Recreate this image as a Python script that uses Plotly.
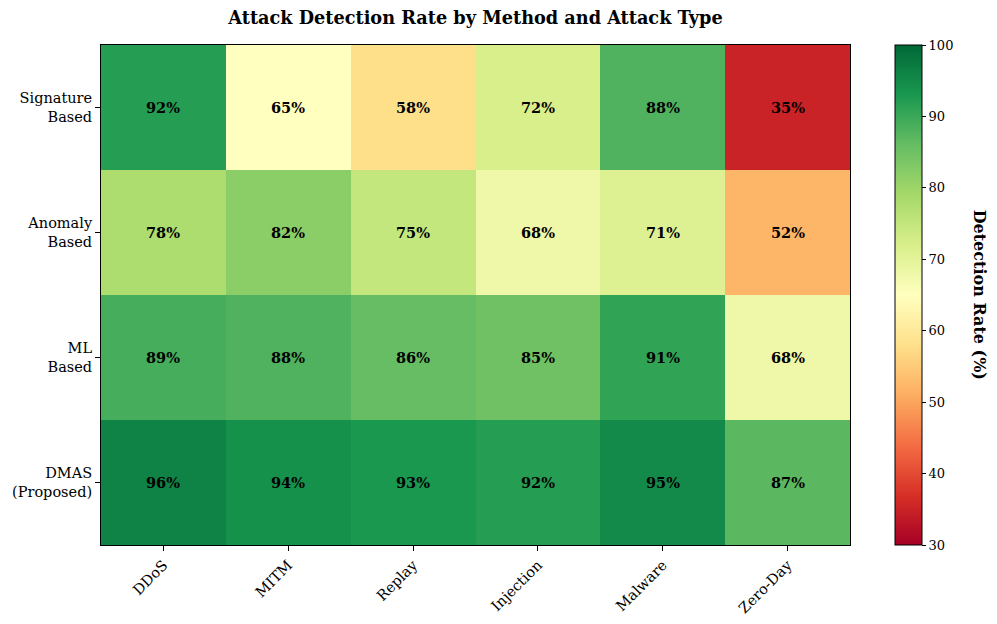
import plotly.graph_objects as go

attack_types = ["DDoS", "MITM", "Replay", "Injection", "Malware", "Zero-Day"]
methods = ["Signature<br>Based", "Anomaly<br>Based", "ML<br>Based", "DMAS<br>(Proposed)"]
signature = [92, 65, 58, 72, 88, 35]
anomaly = [78, 82, 75, 68, 71, 52]
ml = [89, 88, 86, 85, 91, 68]
dmas = [96, 94, 93, 92, 95, 87]
z = [signature, anomaly, ml, dmas]
text = [[f"<b>{v}%</b>" for v in row] for row in z]

FONT = "DejaVu Serif"

fig = go.Figure(go.Heatmap(
    z=z, x=attack_types, y=methods,
    colorscale="RdYlGn", zmin=30, zmax=100,
    text=text, texttemplate="%{text}",
    textfont=dict(family=FONT, size=14.5, color="black"),
    colorbar=dict(
        x=1.06, xanchor="left", xref="paper", xpad=0, ypad=0,
        y=0.5, yanchor="middle", len=1.0, lenmode="fraction",
        thickness=27, thicknessmode="pixels",
        outlinewidth=1, outlinecolor="black",
        tickvals=[30, 40, 50, 60, 70, 80, 90, 100],
        ticks="outside", ticklen=4, tickcolor="black",
        tickfont=dict(family=FONT, size=13, color="black"),
    ),
    hoverongaps=False,
))

fig.update_layout(
    width=989, height=616,
    margin=dict(l=93, r=147, t=37, b=79, autoexpand=False),
    paper_bgcolor="white", plot_bgcolor="white",
    font=dict(family=FONT, color="black"),
    title=dict(text="<b>Attack Detection Rate by Method and Attack Type</b>",
               x=0.5, xanchor="center", xref="paper", y=0.984, yanchor="middle",
               font=dict(family=FONT, size=17.7, color="black")),
    annotations=[dict(text="<b>Detection Rate (%)</b>", textangle=90,
                      x=1.174, y=0.5, xref="paper", yref="paper",
                      showarrow=False, xanchor="center", yanchor="middle",
                      font=dict(family=FONT, size=16, color="black"))],
)
fig.update_xaxes(tickangle=-45, ticks="outside", ticklen=5, tickcolor="black",
                 tickfont=dict(family=FONT, size=14.5, color="black"),
                 showline=True, linecolor="black", linewidth=1, mirror=True,
                 showgrid=False, zeroline=False, automargin=False)
fig.update_yaxes(autorange="reversed", ticks="outside", ticklen=5, tickcolor="black",
                 tickfont=dict(family=FONT, size=14.5, color="black"),
                 showline=True, linecolor="black", linewidth=1, mirror=True,
                 showgrid=False, zeroline=False, automargin=False)

fig.write_html("out.html")
